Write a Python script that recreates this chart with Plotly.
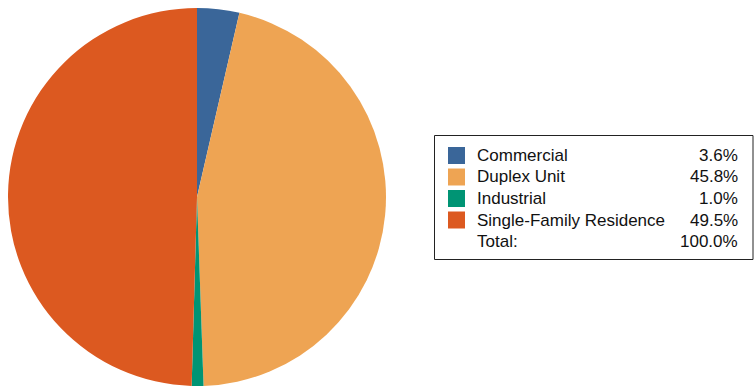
import plotly.graph_objects as go

categories = ["Commercial", "Duplex Unit", "Industrial", "Single-Family Residence"]
values = [3.6, 45.8, 1.0, 49.5]
value_labels = ["3.6%", "45.8%", "1.0%", "49.5%"]
total_label = "100.0%"
colors = ["#3a6699", "#eea453", "#009474", "#dc5920"]

W, H = 754, 387
fig = go.Figure()
fig.add_trace(go.Pie(
    labels=categories, values=values, sort=False, direction="clockwise",
    rotation=0, marker=dict(colors=colors, line=dict(width=0)),
    textinfo="none", hoverinfo="label+percent", showlegend=False,
    domain=dict(x=[8 / W, 386 / W], y=[1 - 386 / H, 1 - 8 / H]),
))

def px(x):
    return x / W

def py(y):
    return 1 - y / H

shapes = [dict(type="rect", xref="paper", yref="paper",
               x0=px(434.5), x1=px(753), y0=py(259.5), y1=py(135.5),
               line=dict(color="#222222", width=1), fillcolor="white")]
annotations = []
font = dict(family="Liberation Sans, Arial, sans-serif", size=17, color="#111111")
row0, step = 155.5, 21.5
rows = categories + ["Total:"]
vals = value_labels + [total_label]
for i, (name, v) in enumerate(zip(rows, vals)):
    yc = row0 + i * step
    if i < len(categories):
        shapes.append(dict(type="rect", xref="paper", yref="paper",
                           x0=px(448), x1=px(465), y0=py(yc + 8.5), y1=py(yc - 8.5),
                           line=dict(width=0), fillcolor=colors[i]))
    annotations.append(dict(xref="paper", yref="paper", x=px(475), y=py(yc),
                            text=name, showarrow=False, xanchor="left", yanchor="middle",
                            font=font))
    annotations.append(dict(xref="paper", yref="paper", x=px(740), y=py(yc),
                            text=v, showarrow=False, xanchor="right", yanchor="middle",
                            font=font))

fig.update_layout(width=W, height=H, margin=dict(l=0, r=0, t=0, b=0),
                  paper_bgcolor="white", plot_bgcolor="white",
                  shapes=shapes, annotations=annotations)
fig.write_html("out.html")
